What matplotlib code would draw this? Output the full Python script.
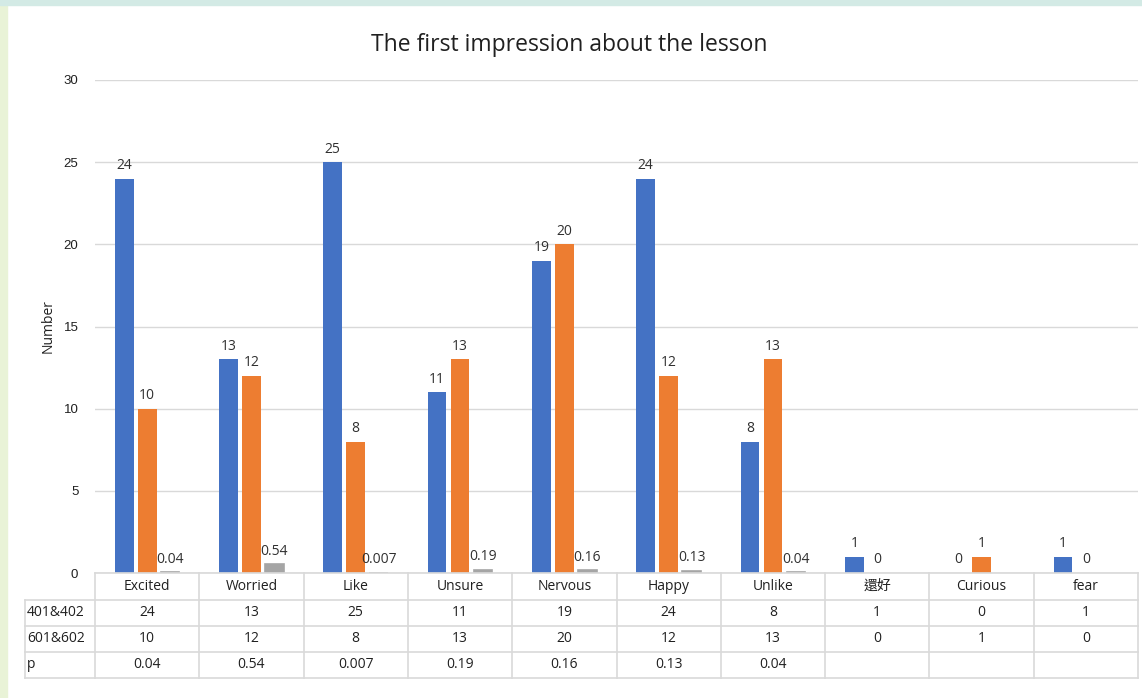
import matplotlib
matplotlib.use("Agg")
import matplotlib.pyplot as plt
from matplotlib.patches import Rectangle
from matplotlib.lines import Line2D
import numpy as np

categories = ["Excited", "Worried", "Like", "Unsure", "Nervous", "Happy", "Unlike", "還好", "Curious", "fear"]
s401 = [24, 13, 25, 11, 19, 24, 8, 1, 0, 1]
s601 = [10, 12, 8, 13, 20, 12, 13, 0, 1, 0]
p_vals = [0.04, 0.54, 0.007, 0.19, 0.16, 0.13, 0.04, None, None, None]
p_labels = ["0.04", "0.54", "0.007", "0.19", "0.16", "0.13", "0.04", "", "", ""]
row_names = ["401&402", "601&602", "p"]
yticks = [0, 5, 10, 15, 20, 25, 30]

W, H = 1142, 698
fig = plt.figure(figsize=(W / 100, H / 100), dpi=100)
fig.patch.set_facecolor("white")

# background edge strips
fig.patches.append(Rectangle((0, 0), 7 / W, 1, transform=fig.transFigure, color="#E9F3D7", zorder=0))
fig.patches.append(Rectangle((0, 1 - 5 / H), 1, 5 / H, transform=fig.transFigure, color="#D3EAE5", zorder=0))

FONT = ["Open Sans", "Noto Sans CJK TC", "DejaVu Sans"]
TXT = "#303030"

x0, x1 = 95, 1138
ytop, ybot = 80, 573
ax = fig.add_axes([x0 / W, 1 - ybot / H, (x1 - x0) / W, (ybot - ytop) / H])
ax.set_xlim(-0.5, len(categories) - 0.5)
ax.set_ylim(0, 30)
for s in ax.spines.values():
    s.set_visible(False)
ax.set_yticks(yticks)
ax.yaxis.grid(True, color="#D9D9D9", linewidth=1)
ax.set_axisbelow(True)
ax.tick_params(axis="y", length=0, pad=12, labelsize=9.5, labelcolor="#202020")
ax.tick_params(axis="x", length=0, labelbottom=False)
for lbl in ax.get_yticklabels():
    lbl.set_family(["Liberation Sans"])
ax.set_xticks([])
ax.set_ylabel("Number", fontsize=10, family=FONT, color="#202020", labelpad=6)

x = np.arange(len(categories))
bw = 0.18
gap = 0.04
off = bw + gap
blue, orange, gray = "#4472C4", "#ED7D31", "#A5A5A5"
ax.bar(x - off, s401, bw, color=blue, zorder=3)
ax.bar(x, s601, bw, color=orange, zorder=3)
idx = [i for i, v in enumerate(p_vals) if v is not None]
ax.bar(x[idx] + off, [p_vals[i] for i in idx], bw, color=gray, edgecolor=gray, linewidth=1.2, zorder=3)

def lab(xs, vals, texts):
    for xi, v, t in zip(xs, vals, texts):
        ax.annotate(t, (xi, v), xytext=(0, 4), textcoords="offset points",
                    ha="center", va="bottom", fontsize=10, color=TXT, family=FONT)

lab(x - off, s401, [str(v) for v in s401])
lab(x, s601, [str(v) for v in s601])
lab(x[idx] + off, [p_vals[i] for i in idx], [p_labels[i] for i in idx])

ax.axhline(0, color="#D9D9D9", linewidth=1, zorder=4)

fig.text(569 / W, 1 - 45 / H, "The first impression about the lesson", ha="center", va="center",
         fontsize=16.5, family=FONT, color="#202020")

# data table
tab = fig.add_axes([x0 / W, 1 - 678 / H, (x1 - x0) / W, (678 - 573) / H])
tab.set_xlim(-0.5, len(categories) - 0.5)
tab.set_ylim(4, 0)
tab.axis("off")
rb = [573, 600, 626, 652, 678]
rows_y = [(r - 573) / (678 - 573) * 4 for r in rb]
lc = "#D9D9D9"
left_x = -0.5 - (x0 - 25) / ((x1 - x0) / len(categories))
for i, yv in enumerate(rows_y):
    xs = -0.5 if i == 0 else left_x
    tab.add_line(Line2D([xs, len(categories) - 0.5], [yv, yv], color=lc, linewidth=1.2, clip_on=False))
for k in range(len(categories) + 1):
    tab.add_line(Line2D([k - 0.5, k - 0.5], [rows_y[0], rows_y[-1]], color=lc, linewidth=1.2, clip_on=False))
tab.add_line(Line2D([left_x, left_x], [rows_y[1], rows_y[-1]], color=lc, linewidth=1.2, clip_on=False))

def cy(r):
    return (rows_y[r] + rows_y[r + 1]) / 2

for i, c in enumerate(categories):
    tab.text(i, cy(0), c, ha="center", va="center", fontsize=10, family=FONT, color="#202020")
    tab.text(i, cy(1), str(s401[i]), ha="center", va="center", fontsize=10, family=FONT, color="#202020")
    tab.text(i, cy(2), str(s601[i]), ha="center", va="center", fontsize=10, family=FONT, color="#202020")
    tab.text(i, cy(3), p_labels[i], ha="center", va="center", fontsize=10, family=FONT, color="#202020")
for r, nm in enumerate(row_names):
    tab.text(left_x + 0.02, cy(r + 1), nm, ha="left", va="center", fontsize=10, family=FONT,
             color="#202020", clip_on=False)

fig.savefig("out.png", dpi=100)
